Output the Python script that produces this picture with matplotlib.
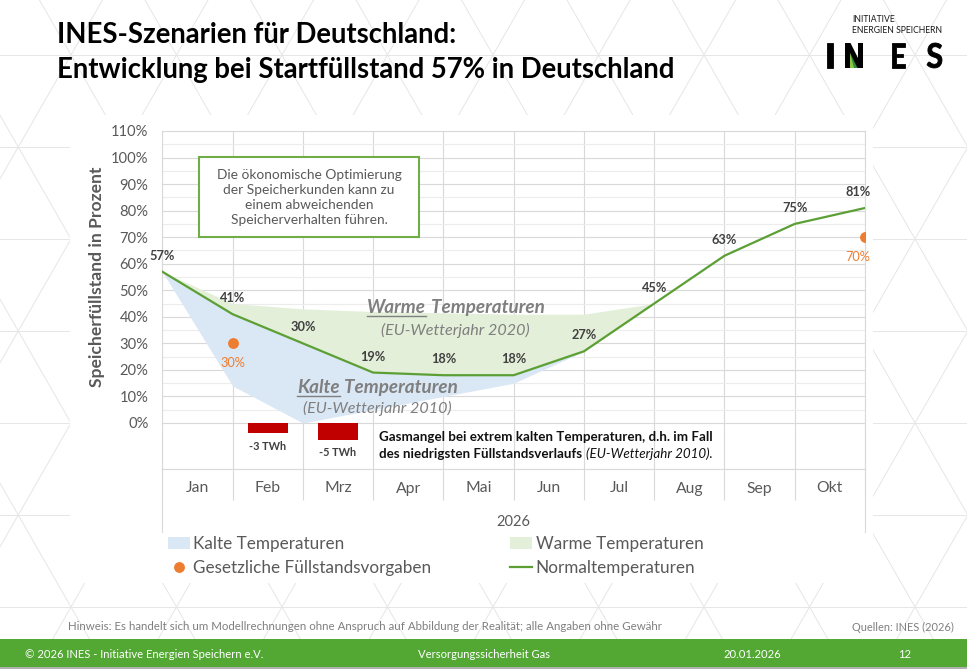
import matplotlib
matplotlib.use("Agg")
import matplotlib.pyplot as plt
from matplotlib.patches import Rectangle, Polygon, Patch, PathPatch
from matplotlib.lines import Line2D
from matplotlib.textpath import TextPath
from matplotlib.font_manager import FontProperties
from matplotlib.transforms import Affine2D
import numpy as np

plt.rcParams['font.family'] = ['Lato', 'DejaVu Sans']

# ---- data (Speicherfuellstand in %, Monatsanfang Jan ... Ende Okt) ----
months = ["Jan", "Feb", "Mrz", "Apr", "Mai", "Jun", "Jul", "Aug", "Sep", "Okt"]
normal = [57, 41, 30, 19, 18, 18, 27, 45, 63, 75, 81]      # Normaltemperaturen
cold = [57, 14, 0, 5, 10, 15, 27, 45, 63, 75, 81]          # Kalte Temperaturen (EU-Wetterjahr 2010)
warm = [57, 45, 43, 42, 41.5, 41, 41, 45, 63, 75, 81]      # Warme Temperaturen (EU-Wetterjahr 2020)
target_pos = [1, 10]                                       # Gesetzliche Fuellstandsvorgaben
target_val = [30, 70]
shortage_months = ["Feb", "Mrz"]                           # Gasmangel
shortage_twh = [-3, -5]
yticks = list(range(0, 111, 10))

GREEN_LINE = '#5b9f35'
BLUE_FILL = '#dae7f5'
GREEN_FILL = '#e3efd9'
ORANGE = '#ed7d31'
RED = '#c00000'
GRID = '#d9d9d9'
GRAYTXT = '#595959'
DARKTXT = '#404040'

W, H = 967, 669
fig = plt.figure(figsize=(W / 100, H / 100), dpi=100)

# background layer in pixel coordinates
bg = fig.add_axes([0, 0, 1, 1], zorder=0)
bg.set_xlim(0, W)
bg.set_ylim(H, 0)
bg.axis('off')

# faint triangle pattern of the slide
pat = dict(color='#e6e6e6', lw=0.7, zorder=0)
for yy in np.arange(423 - 92 * 5, H + 92, 92):
    bg.plot([0, W], [yy, yy], **pat)
dx = 52.75 / 92
for m in range(-16, 6):
    xv = 915 + 105.5 * m
    bg.plot([xv + (-20 - 423) * dx, xv + (H + 20 - 423) * dx], [-20, H + 20], **pat)
    bg.plot([xv - (-20 - 423) * dx, xv - (H + 20 - 423) * dx], [-20, H + 20], **pat)

bg.add_patch(Rectangle((70, 115), 803, 468, fc='white', ec='none', zorder=1))

# footer
bg.add_patch(Rectangle((0, 639), W, 28, fc='#52a832', ec='none', zorder=2))
bg.add_patch(Rectangle((0, 667), W, 2, fc='#b0b0b0', ec='none', zorder=2))

# ---- chart axes ----
x0px, x1px = 162.3, 865
y110, y0px, ybot = 131, 423, 469
ppp = (y0px - y110) / 110
ymin = -(ybot - y0px) / ppp

ax = fig.add_axes([x0px / W, 1 - ybot / H, (x1px - x0px) / W, (ybot - y110) / H], zorder=1)
ax.patch.set_visible(False)
ax.set_xlim(0, 10)
ax.set_ylim(ymin, 110)
for s in ax.spines.values():
    s.set_color(GRID)
    s.set_linewidth(0.8)

ax.set_yticks(yticks)
ax.set_yticklabels([f"{v}%" for v in yticks])
ax.set_yticks(np.arange(5, 110, 10), minor=True)
ax.yaxis.grid(True, which='major', color=GRID, lw=0.8)
ax.yaxis.grid(True, which='minor', color='#ececec', lw=0.8)
ax.tick_params(axis='y', which='both', length=0, pad=10, labelsize=10.6, labelcolor=GRAYTXT)

ax.set_xticks(range(11))
ax.set_xticklabels([])
ax.set_xticks(np.arange(10) + 0.5, minor=True)
ax.set_xticklabels(months, minor=True)
ax.xaxis.grid(True, which='major', color=GRID, lw=0.8)
ax.tick_params(axis='x', which='major', length=22.3, width=0.8, color=GRID, direction='out')
ax.tick_params(axis='x', which='minor', length=0, pad=9, labelsize=11.3, labelcolor=GRAYTXT)
ax.set_axisbelow(True)

x = np.arange(len(normal))
ax.fill_between(x, cold, normal, color=BLUE_FILL, lw=0, zorder=2)
ax.fill_between(x, normal, warm, color=GREEN_FILL, lw=0, zorder=2)
ax.plot(x, normal, color=GREEN_LINE, lw=1.6, zorder=3)
ax.plot(target_pos, target_val, 'o', color=ORANGE, ms=6.8, zorder=4)

for i, v in enumerate(normal):
    dxo = -5 if i == len(normal) - 1 else 0
    ax.annotate(f"{v}%", (i, v), xytext=(dxo, 11.5), textcoords='offset points',
                ha='center', va='center', fontsize=9.2, fontweight='bold', color=DARKTXT,
                annotation_clip=False, zorder=5)
for p, v in zip(target_pos, target_val):
    dxo = -5 if p == 10 else 0
    ax.annotate(f"{v}%", (p, v), xytext=(dxo, -14), textcoords='offset points',
                ha='center', va='center', fontsize=9.2, color=ORANGE,
                annotation_clip=False, zorder=5)

# shortage bars on a TWh scale
k = 1.27
ax2 = ax.twinx()
ax2.patch.set_visible(False)
ax2.set_ylim(ymin / k, 110 / k)
ax2.axis('off')
bx = [months.index(m) + 0.5 for m in shortage_months]
ax2.bar(bx, shortage_twh, width=0.57, color=RED)
for xx, v in zip(bx, shortage_twh):
    ax2.annotate(f"{v} TWh", (xx, v), xytext=(0, -9.4), textcoords='offset points',
                 ha='center', va='center', fontsize=7.8, fontweight='bold', color=DARKTXT,
                 annotation_clip=False)

# extension lines of category table
bg.plot([x0px, x0px], [ybot, 532], color=GRID, lw=0.8, zorder=3)
bg.plot([x1px, x1px], [ybot, 532], color=GRID, lw=0.8, zorder=3)

# ---- foreground text layer ----
fg = fig.add_axes([0, 0, 1, 1], zorder=5)
fg.set_xlim(0, W)
fg.set_ylim(H, 0)
fg.axis('off')
rend = fig.canvas.get_renderer()

fg.text(57, 43, "INES-Szenarien für Deutschland:", fontsize=19.8, fontweight='bold', color='black', va='baseline')
fg.text(57, 78, "Entwicklung bei Startfüllstand 57% in Deutschland", fontsize=19.8, fontweight='bold',
        color='black', va='baseline')

fg.text(97, 277, "Speicherfüllstand in Prozent", rotation=90, ha='center', va='center',
        fontsize=12.6, fontweight='bold', color=GRAYTXT)
fg.text(513.6, 522, "2026", ha='center', va='center', fontsize=10.5, color=GRAYTXT)

# info box
fg.add_patch(Rectangle((199, 157), 220, 80, fc='white', ec='#70ad47', lw=1.5))
fg.text(309, 197.5, "Die ökonomische Optimierung\nder Speicherkunden kann zu\neinem abweichenden\nSpeicherverhalten führen.",
        ha='center', va='center', multialignment='center', linespacing=1.32, fontsize=9.9, color=GRAYTXT)


def underlined(xl, yb, word, rest, **kw):
    t = fg.text(xl, yb, word, va='baseline', **kw)
    bb = t.get_window_extent(renderer=rend)
    fg.plot([xl, bb.x1], [yb + 2.5, yb + 2.5], color=kw['color'], lw=1.0)
    fg.text(bb.x1 + 4.5, yb, rest, va='baseline', **kw)


lab = dict(fontsize=13.6, fontweight='bold', fontstyle='italic', color='#7f7f7f')
underlined(367, 313, "Warme", "Temperaturen", **lab)
fg.text(381, 330.5, "(EU-Wetterjahr 2020)", fontsize=11.6, fontstyle='italic', color='#7f7f7f', va='center')
underlined(297, 393, "Kalte", "Temperaturen", **lab)
fg.text(303, 408.5, "(EU-Wetterjahr 2010)", fontsize=11.6, fontstyle='italic', color='#7f7f7f', va='center')

# Gasmangel note
fg.text(379, 437, "Gasmangel bei extrem kalten Temperaturen, d.h. im Fall", fontsize=9.6,
        fontweight='bold', color='#111111', va='center')
t = fg.text(379, 454, "des niedrigsten Füllstandsverlaufs", fontsize=9.6, fontweight='bold',
            color='#111111', va='center')
bb = t.get_window_extent(renderer=rend)
fg.text(bb.x1 + 4, 454, "(EU-Wetterjahr 2010).", fontsize=9.6, fontstyle='italic', color='#111111', va='center')

# legend
handles = [Patch(fc=BLUE_FILL, ec='none'),
           Line2D([], [], ls='none', marker='o', ms=6.8, color=ORANGE),
           Patch(fc=GREEN_FILL, ec='none'),
           Line2D([], [], color=GREEN_LINE, lw=1.6)]
labels = ["Kalte Temperaturen", "Gesetzliche Füllstandsvorgaben", "Warme Temperaturen", "Normaltemperaturen"]
fig.legend(handles, labels, loc='upper left', bbox_to_anchor=(161 / W, 1 - 529 / H), ncol=2,
           frameon=False, fontsize=12.3, labelcolor=GRAYTXT, handlelength=1.3, handletextpad=0.2,
           columnspacing=4.6, labelspacing=0.5, borderaxespad=0)

# footer texts
fg.text(68, 627, "Hinweis: Es handelt sich um Modellrechnungen ohne Anspruch auf Abbildung der Realität; alle Angaben ohne Gewähr",
        fontsize=8.3, color='#7f7f7f', va='center')
fg.text(954, 627, "Quellen: INES (2026)", fontsize=7.9, color='#7f7f7f', va='center', ha='right')
fk = dict(fontsize=8.1, color='white', va='center')
fg.text(25, 655, "© 2026 INES - Initiative Energien Speichern e.V.", **fk)
fg.text(484, 655, "Versorgungssicherheit Gas", ha='center', **fk)
fg.text(752, 655, "20.01.2026", ha='center', **fk)
fg.text(905, 655, "12", ha='center', **fk)

# logo
fg.text(852, 20, "INITIATIVE", fontsize=6.2, color='#1a1a1a', va='center')
fg.text(852, 30.5, "ENERGIEN SPEICHERN", fontsize=6.2, color='#1a1a1a', va='center')


def logo_letter(ch, xa, xb, ya, yb):
    tp = TextPath((0, 0), ch, size=10, prop=FontProperties(family='Lato', weight='bold'))
    e = tp.get_extents()
    tr = (Affine2D().translate(-e.x0, -e.y0).scale((xb - xa) / e.width, -(yb - ya) / e.height)
          .translate(xa, yb) + fg.transData)
    fg.add_patch(PathPatch(tp, transform=tr, fc='black', ec='black', lw=0.6, zorder=2))


logo_letter("I", 827, 833, 43, 68)
logo_letter("E", 892, 905, 43, 68)
logo_letter("S", 927, 942, 43, 68)
# the N of the logo with its green counter
fg.add_patch(Polygon([(850, 53), (850, 68), (858, 68)], closed=True, fc='#8cc63f', ec='none', zorder=2))
fg.add_patch(Polygon([(850, 53), (854, 68), (858, 68)], closed=True, fc='#2f8a3a', ec='none', zorder=2))
fg.add_patch(Rectangle((845, 43), 5, 25, fc='black', ec='none', zorder=3))
fg.add_patch(Rectangle((858, 43), 5, 25, fc='black', ec='none', zorder=3))
fg.add_patch(Polygon([(845, 43), (850.5, 43), (863, 68), (857.5, 68)], closed=True, fc='black', ec='none', zorder=3))

fig.savefig("out.png", dpi=100)
